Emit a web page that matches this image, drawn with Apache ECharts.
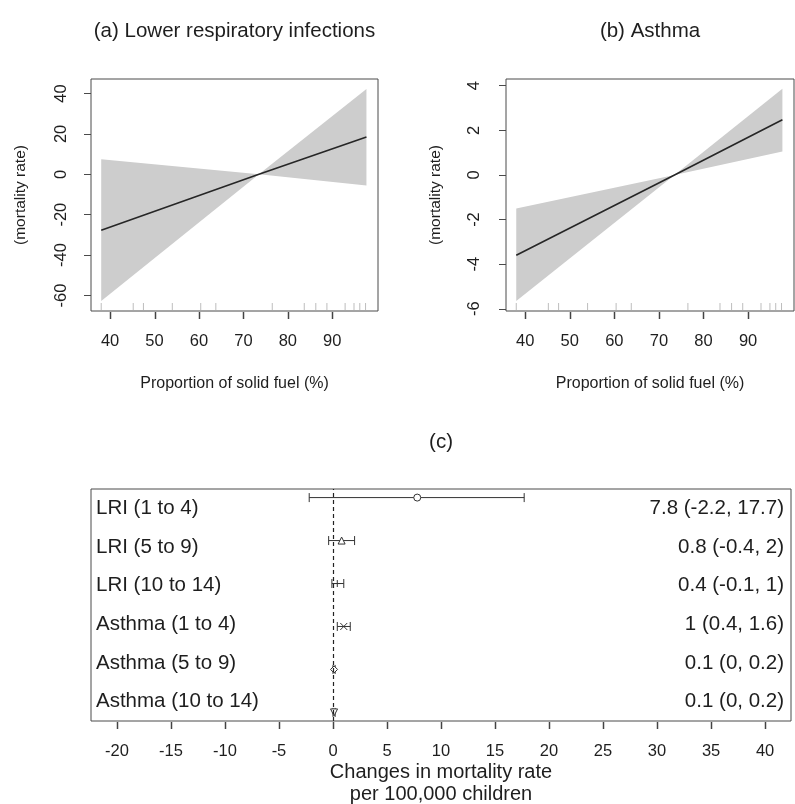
<!DOCTYPE html>
<html>
<head>
<meta charset="utf-8">
<script src="https://cdn.jsdelivr.net/npm/echarts@6/dist/echarts.min.js"></script>
<style>
html,body{margin:0;padding:0;background:#fff;}
#chart{width:795px;height:804px;}
</style>
</head>
<body>
<div id="chart"></div>
<script>
// ---- data ----
const fuelX = [38, 73.5, 97.7];
const lriFit = [-27.7, 0, 18.5];
const lriLower = [-62.8, 0, -5.6];
const lriUpper = [7.4, 0, 42.2];
const asthmaFit = [-3.6, 0, 2.47];
const asthmaLower = [-5.65, 0, 1.05];
const asthmaUpper = [-1.5, 0, 3.86];
const rugX = [38.0, 45.2, 47.5, 54.0, 60.4, 63.8, 76.5, 83.7, 86.3, 88.8, 92.9, 94.9, 96.2, 97.5];
const fuelTicks = [40, 50, 60, 70, 80, 90];
const lriTicks = [-60, -40, -20, 0, 20, 40];
const asthmaTicks = [-6, -4, -2, 0, 2, 4];
const groups = ['LRI (1 to 4)', 'LRI (5 to 9)', 'LRI (10 to 14)', 'Asthma (1 to 4)', 'Asthma (5 to 9)', 'Asthma (10 to 14)'];
const estimate = [7.8, 0.8, 0.4, 1, 0.1, 0.1];
const ciLow = [-2.2, -0.4, -0.1, 0.4, 0, 0];
const ciHigh = [17.7, 2, 1, 1.6, 0.2, 0.2];
const changeTicks = [-20, -15, -10, -5, 0, 5, 10, 15, 20, 25, 30, 35, 40];

// ---- derived ----
const ciLabels = groups.map((g, i) => `${estimate[i]} (${ciLow[i]}, ${ciHigh[i]})`);
const rowPos = groups.map((g, i) => groups.length - i);

// ---- style ----
const FONT = '"Liberation Sans", Arial, Helvetica, sans-serif';
const TXT = '#1e1e1e';
const AX = '#4a4a4a';
const LRI_Y = [-67.7, 47.2];
const AST_Y = [-6.1, 4.3];
const FUEL_X = [35.7, 100.3];
const CHG_Y = [0.8, 6.2];
const markerSymbols = [
  'circle',
  'triangle',
  'path://M5,0 L5,10 M0,5 L10,5',
  'path://M0,0 L10,10 M10,0 L0,10',
  'diamond',
  'path://M0,0 L10,0 L5,8.66 Z'
];

const chart = echarts.init(document.getElementById('chart'), null, {renderer: 'canvas'});

function fuelXAxis(gi) {
  return {
    gridIndex: gi, type: 'value', min: FUEL_X[0], max: FUEL_X[1], position: 'bottom',
    axisLine: {show: false, onZero: false}, splitLine: {show: false},
    axisTick: {show: false},
    axisLabel: {customValues: fuelTicks, margin: 22, fontSize: 16.5, color: TXT, fontFamily: FONT},
    name: 'Proportion of solid fuel (%)', nameLocation: 'middle', nameGap: 65,
    nameTextStyle: {fontSize: 16, color: TXT, fontFamily: FONT}
  };
}
function rateYAxis(gi, range, ticks, margin) {
  return {
    gridIndex: gi, type: 'value', min: range[0], max: range[1], position: 'left',
    axisLine: {show: false, onZero: false}, splitLine: {show: false},
    axisTick: {show: true, inside: false, length: 7, customValues: ticks, lineStyle: {color: AX, width: 1}},
    axisLabel: {customValues: ticks, rotate: 90, margin: margin, fontSize: 16.5, color: TXT, fontFamily: FONT},
    name: '(mortality rate)', nameLocation: 'middle', nameGap: 62, nameRotate: 90,
    nameTextStyle: {fontSize: 15.5, color: TXT, fontFamily: FONT}
  };
}
function bandSeries(gi, lower, upper) {
  return {
    type: 'custom', xAxisIndex: gi, yAxisIndex: gi, silent: true, z: 1,
    data: fuelX.map((x, i) => [x, lower[i], upper[i]]),
    encode: {x: 0, y: [1, 2]},
    renderItem: function (params, api) {
      if (params.dataIndex !== 0) return null;
      const pts = [];
      for (let i = 0; i < fuelX.length; i++) pts.push(api.coord([fuelX[i], upper[i]]));
      for (let i = fuelX.length - 1; i >= 0; i--) pts.push(api.coord([fuelX[i], lower[i]]));
      return {type: 'polygon', shape: {points: pts}, style: {fill: '#cdcdcd'}};
    }
  };
}
function fitSeries(gi, fit) {
  return {
    type: 'line', xAxisIndex: gi, yAxisIndex: gi, silent: true, z: 3,
    data: fuelX.map((x, i) => [x, fit[i]]),
    showSymbol: false, symbol: 'none',
    lineStyle: {color: '#262626', width: 1.6}
  };
}
function rugSeries(gi, yMin) {
  return {
    type: 'custom', xAxisIndex: gi, yAxisIndex: gi, silent: true, z: 2,
    data: rugX.map(v => [v, yMin]),
    encode: {x: 0, y: 1},
    renderItem: function (params, api) {
      const p = api.coord([api.value(0), api.value(1)]);
      return {type: 'line', shape: {x1: p[0], y1: p[1] - 1, x2: p[0], y2: p[1] - 8},
        style: {stroke: '#bdbdbd', lineWidth: 1}};
    }
  };
}

const gridBase = {show: true, borderColor: AX, borderWidth: 1, containLabel: false, outerBoundsMode: 'none', backgroundColor: 'transparent'};

const option = {
  animation: false,
  backgroundColor: '#fff',
  title: [
    {text: '(a) Lower respiratory infections', left: 234.5, top: 21, textAlign: 'center', padding: 0,
      textStyle: {fontSize: 20.5, fontWeight: 'normal', color: TXT, fontFamily: FONT}},
    {text: '(b) Asthma', left: 650, top: 21, textAlign: 'center', padding: 0,
      textStyle: {fontSize: 20.5, fontWeight: 'normal', color: TXT, fontFamily: FONT}},
    {text: '(c)', left: 441, top: 432, textAlign: 'center', padding: 0,
      textStyle: {fontSize: 20.5, fontWeight: 'normal', color: TXT, fontFamily: FONT}}
  ],
  grid: [
    Object.assign({left: 91, top: 79, width: 287, height: 232}, gridBase),
    Object.assign({left: 506, top: 79, width: 288, height: 232}, gridBase),
    Object.assign({left: 91, top: 489, width: 700, height: 232}, gridBase)
  ],
  xAxis: [
    fuelXAxis(0),
    fuelXAxis(1),
    {
      gridIndex: 2, type: 'value', min: -22.4, max: 42.4, position: 'bottom',
      axisLine: {show: false, onZero: false}, splitLine: {show: false},
      axisTick: {show: false},
      axisLabel: {customValues: changeTicks, margin: 22, fontSize: 16.5, color: TXT, fontFamily: FONT},
      name: 'Changes in mortality rate\nper 100,000 children', nameLocation: 'middle', nameGap: 40,
      nameTextStyle: {fontSize: 20, lineHeight: 22, color: TXT, fontFamily: FONT}
    }
  ],
  yAxis: [
    rateYAxis(0, LRI_Y, lriTicks, 21),
    rateYAxis(1, AST_Y, asthmaTicks, 23.5),
    {gridIndex: 2, type: 'value', min: CHG_Y[0], max: CHG_Y[1], show: false},
    {gridIndex: 2, type: 'category', data: groups, inverse: true, position: 'left',
      axisLine: {show: false}, axisTick: {show: false}, splitLine: {show: false},
      axisLabel: {inside: true, margin: 5, fontSize: 20.5, color: TXT, fontFamily: FONT, align: 'left'}},
    {gridIndex: 2, type: 'category', data: ciLabels, inverse: true, position: 'right',
      axisLine: {show: false}, axisTick: {show: false}, splitLine: {show: false},
      axisLabel: {inside: true, margin: 7, fontSize: 20.5, color: TXT, fontFamily: FONT, align: 'right'}}
  ],
  series: [
    bandSeries(0, lriLower, lriUpper),
    rugSeries(0, LRI_Y[0]),
    fitSeries(0, lriFit),
    bandSeries(1, asthmaLower, asthmaUpper),
    rugSeries(1, AST_Y[0]),
    fitSeries(1, asthmaFit),
    {
      type: 'custom', xAxisIndex: 2, yAxisIndex: 2, silent: true, z: 3,
      data: groups.map((g, i) => [ciLow[i], ciHigh[i], rowPos[i]]),
      encode: {x: [0, 1], y: 2},
      renderItem: function (params, api) {
        const y = api.value(2);
        const a = api.coord([api.value(0), y]);
        const b = api.coord([api.value(1), y]);
        const c = 4.5;
        const st = {stroke: '#333', lineWidth: 1};
        return {type: 'group', children: [
          {type: 'line', shape: {x1: a[0], y1: a[1], x2: b[0], y2: b[1]}, style: st},
          {type: 'line', shape: {x1: a[0], y1: a[1] - c, x2: a[0], y2: a[1] + c}, style: st},
          {type: 'line', shape: {x1: b[0], y1: b[1] - c, x2: b[0], y2: b[1] + c}, style: st}
        ]};
      }
    },
    {
      type: 'scatter', xAxisIndex: 2, yAxisIndex: 2, silent: true, z: 4,
      symbolSize: 7,
      itemStyle: {color: '#fff', borderColor: '#333', borderWidth: 1, opacity: 1},
      data: estimate.map((v, i) => ({value: [v, rowPos[i]], symbol: markerSymbols[i]})),
      markLine: {
        silent: true, symbol: ['none', 'none'], animation: false,
        label: {show: false},
        lineStyle: {type: [4, 3], color: '#222', width: 1.2},
        data: [{xAxis: 0}]
      }
    }
  ]
};
chart.setOption(option);

// x-axis tick marks below each frame, positioned through the axis scales
const tickSets = [
  {gi: 0, ticks: fuelTicks, yMin: LRI_Y[0]},
  {gi: 1, ticks: fuelTicks, yMin: AST_Y[0]},
  {gi: 2, ticks: changeTicks, yMin: CHG_Y[0]}
];
const tickGraphics = [];
tickSets.forEach(s => {
  s.ticks.forEach(v => {
    const p = chart.convertToPixel({xAxisIndex: s.gi, yAxisIndex: s.gi}, [v, s.yMin]);
    if (!p || !isFinite(p[0]) || !isFinite(p[1])) return;
    const x = Math.round(p[0]) + 0.5;
    const y = Math.round(p[1]);
    tickGraphics.push({
      type: 'rect', silent: true, z: 100, zlevel: 2,
      shape: {x: x - 0.75, y: y + 1, width: 1.5, height: 7},
      style: {fill: '#444'}
    });
  });
});
chart.setOption({graphic: {elements: tickGraphics}});
</script>
</body>
</html>
